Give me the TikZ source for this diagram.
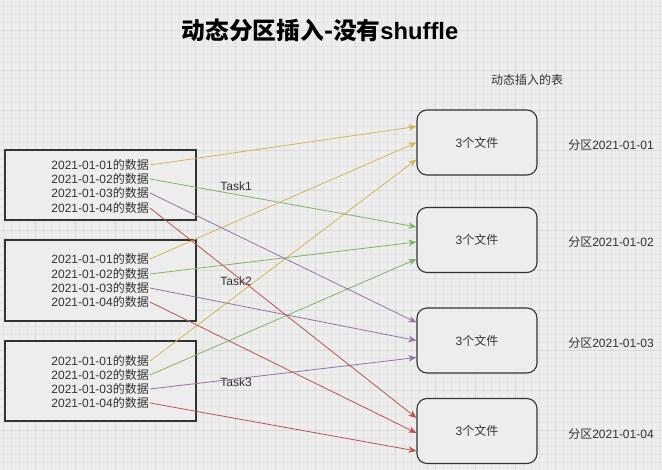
\documentclass[tikz,border=0pt]{standalone}
\usepackage{fontspec}
\setmainfont{Liberation Sans}
\newfontfamily\zh{Noto Sans CJK SC}
\usepackage{tikz}
\usetikzlibrary{arrows.meta,calc}

\definecolor{bg}{HTML}{EDEDED}
\definecolor{minorline}{HTML}{E3E3E3}
\definecolor{majorline}{HTML}{D9D9D9}
\definecolor{boxline}{HTML}{333333}
\definecolor{txt}{HTML}{333333}
\definecolor{day1}{HTML}{D6B656}
\definecolor{day2}{HTML}{82B366}
\definecolor{day3}{HTML}{9673A6}
\definecolor{day4}{HTML}{B85450}

\tikzset{
  srcbox/.style={draw=boxline, line width=1.1pt, fill=bg, minimum width=191pt, inner sep=0pt},
  partbox/.style={draw=boxline, line width=1.1pt, fill=bg, rounded corners=10pt,
    minimum width=120pt, minimum height=65pt, text=txt, font=\fontsize{12}{14}\selectfont},
  rowtext/.style={anchor=east, inner sep=1pt, text=txt, font=\fontsize{12}{14}\selectfont},
  plain/.style={inner sep=0pt, text=txt, font=\fontsize{12}{14}\selectfont},
  flow/.style={line width=0.8pt, -{Stealth[length=8pt,width=6.5pt]}}
}

\begin{document}
\begin{tikzpicture}[x=1pt,y=-1pt]
  \useasboundingbox (0,0) rectangle (662,470);
  \fill[bg] (0,0) rectangle (662,470);
  % grid
  \foreach \x in {3,11,...,662} \draw[minorline, line width=0.6pt] (\x,0) -- (\x,470);
  \foreach \y in {6,14,...,470} \draw[minorline, line width=0.6pt] (0,\y) -- (662,\y);
  \foreach \x in {35,75,...,662} \draw[majorline, line width=0.7pt] (\x,0) -- (\x,470);
  \foreach \y in {30,70,...,470} \draw[majorline, line width=0.7pt] (0,\y) -- (662,\y);

  \node[inner sep=0pt, font=\bfseries\fontsize{23.7}{24}\selectfont] (title) at (320,30)
    {{\zh\bfseries 动态分区插入-没有}shuffle};
  \node[plain] (tablename) at (527,80) {\zh 动态插入的表};

  % source boxes
  \node[srcbox, minimum height=70pt] (src1) at (100.5,185) {};
  \node[srcbox, minimum height=81pt] (src2) at (100.5,280.5) {};
  \node[srcbox, minimum height=80pt] (src3) at (100.5,381) {};

  \node[rowtext] (s1a) at (150,165) {2021-01-01{\zh 的数据}};
  \node[rowtext] (s1b) at (150,179) {2021-01-02{\zh 的数据}};
  \node[rowtext] (s1c) at (150,193) {2021-01-03{\zh 的数据}};
  \node[rowtext] (s1d) at (150,208) {2021-01-04{\zh 的数据}};
  \node[rowtext] (s2a) at (150,259) {2021-01-01{\zh 的数据}};
  \node[rowtext] (s2b) at (150,274) {2021-01-02{\zh 的数据}};
  \node[rowtext] (s2c) at (150,288) {2021-01-03{\zh 的数据}};
  \node[rowtext] (s2d) at (150,302) {2021-01-04{\zh 的数据}};
  \node[rowtext] (s3a) at (150,361) {2021-01-01{\zh 的数据}};
  \node[rowtext] (s3b) at (150,375) {2021-01-02{\zh 的数据}};
  \node[rowtext] (s3c) at (150,389) {2021-01-03{\zh 的数据}};
  \node[rowtext] (s3d) at (150,403) {2021-01-04{\zh 的数据}};

  % partitions
  \node[partbox] (part1) at (477,142.5) {3{\zh 个文件}};
  \node[partbox] (part2) at (477,240) {3{\zh 个文件}};
  \node[partbox] (part3) at (477,340.5) {3{\zh 个文件}};
  \node[partbox] (part4) at (477,431) {3{\zh 个文件}};

  \node[plain] (name1) at (611,145) {{\zh 分区}2021-01-01};
  \node[plain] (name2) at (611,242) {{\zh 分区}2021-01-02};
  \node[plain] (name3) at (611,343) {{\zh 分区}2021-01-03};
  \node[plain] (name4) at (611,434) {{\zh 分区}2021-01-04};

  \node[plain] (task1) at (236,186) {Task1};
  \node[plain] (task2) at (236,281) {Task2};
  \node[plain] (task3) at (236,382) {Task3};

  % flows
  \draw[flow, day1] (s1a.east) -- ([yshift=16pt]part1.west);
  \draw[flow, day1] (s2a.east) -- (part1.west);
  \draw[flow, day1] (s3a.east) -- ([yshift=-17pt]part1.west);
  \draw[flow, day2] (s1b.east) -- ([yshift=13pt]part2.west);
  \draw[flow, day2] (s2b.east) -- ([yshift=-2pt]part2.west);
  \draw[flow, day2] (s3b.east) -- ([yshift=-19pt]part2.west);
  \draw[flow, day3] (s1c.east) -- ([yshift=18pt]part3.west);
  \draw[flow, day3] (s2c.east) -- (part3.west);
  \draw[flow, day3] (s3c.east) -- ([yshift=-17pt]part3.west);
  \draw[flow, day4] (s1d.east) -- ([yshift=13pt]part4.west);
  \draw[flow, day4] (s2d.east) -- ([yshift=-2pt]part4.west);
  \draw[flow, day4] (s3d.east) -- ([yshift=-20pt]part4.west);
\end{tikzpicture}
\end{document}
